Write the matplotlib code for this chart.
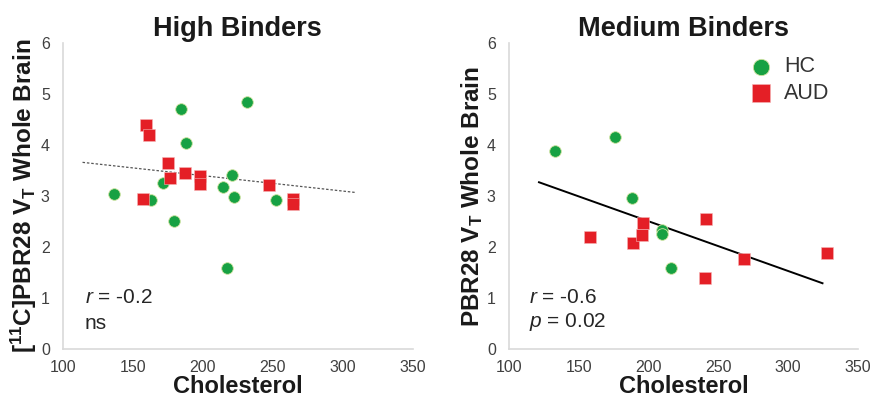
import numpy as np
import matplotlib.pyplot as plt

plt.rcParams['font.family'] = ['Liberation Sans', 'DejaVu Sans']
plt.rcParams['mathtext.fontset'] = 'custom'
plt.rcParams['mathtext.rm'] = 'Liberation Sans'
plt.rcParams['mathtext.it'] = 'Liberation Sans:italic'
plt.rcParams['mathtext.bf'] = 'Liberation Sans:bold'

GREEN = '#17a143'
RED = '#e41f26'

# High binders
hb_hc_x = [184.3, 231.4, 188.3, 220.5, 171.4, 214.5, 136.2, 222.6, 162.6, 252.4, 179.3, 217.4]
hb_hc_y = [4.70, 4.85, 4.03, 3.41, 3.25, 3.18, 3.03, 2.99, 2.92, 2.92, 2.51, 1.59]
hb_aud_x = [159.5, 161.4, 175.2, 187.6, 176.7, 198.3, 198.3, 247.4, 157.4, 264.8, 264.8]
hb_aud_y = [4.39, 4.20, 3.65, 3.46, 3.35, 3.39, 3.23, 3.22, 2.95, 2.94, 2.84]
hb_trend_x = [114, 309]
hb_trend_y = [3.66, 3.07]

# Medium binders
mb_hc_x = [133.0, 176.2, 188.3, 209.4, 209.4, 216.0]
mb_hc_y = [3.89, 4.16, 2.97, 2.33, 2.25, 1.59]
mb_aud_x = [158.0, 189.0, 195.5, 196.2, 241.3, 240.6, 268.3, 327.8]
mb_aud_y = [2.20, 2.07, 2.24, 2.47, 2.54, 1.39, 1.76, 1.88]
mb_trend_x = [121.5, 324.7]
mb_trend_y = [3.27, 1.29]

xticks = [100, 150, 200, 250, 300, 350]
yticks = [0, 1, 2, 3, 4, 5, 6]

fig = plt.figure(figsize=(8.72, 3.98), dpi=100)
ax1 = fig.add_axes([0.0722, 0.123, 0.401, 0.769])
ax2 = fig.add_axes([0.5837, 0.123, 0.400, 0.769])


def style(ax, title, ylabel):
    ax.set_xlim(100, 350)
    ax.set_ylim(0, 6)
    ax.set_xticks(xticks)
    ax.set_yticks(yticks)
    for s in ['top', 'right']:
        ax.spines[s].set_visible(False)
    for s in ['left', 'bottom']:
        ax.spines[s].set_color('#d9d9d9')
        ax.spines[s].set_linewidth(1.2)
    ax.tick_params(length=0, pad=9.5, labelsize=11.5, labelcolor='#404040')
    ax.tick_params(axis='x', pad=8)
    ax.set_title(title, fontsize=19.5, fontweight='bold', pad=5, color='#1a1a1a')
    ax.set_xlabel('Cholesterol', fontsize=17, fontweight='bold', labelpad=0, color='#1a1a1a')
    ax.set_ylabel(ylabel, fontsize=17.5, fontweight='bold', labelpad=1, color='#1a1a1a')


def points(ax, hx, hy, ax_, ay):
    ax.scatter(hx, hy, s=70, marker='o', color=GREEN, edgecolors='#cfe3a0',
               linewidths=0.6, zorder=3, label='HC')
    ax.scatter(ax_, ay, s=80, marker='s', color=RED, edgecolors='#f5b5b5',
               linewidths=0.4, zorder=3, label='AUD')


points(ax1, hb_hc_x, hb_hc_y, hb_aud_x, hb_aud_y)
ax1.plot(hb_trend_x, hb_trend_y, color='#555555', linestyle=(0, (2, 1.5)),
         linewidth=0.9, zorder=2)
style(ax1, 'High Binders', r'[$^{\mathbf{11}}$C]PBR28 V$_{\mathbf{T}}$ Whole Brain')
ax1.text(0.063, 1.02, r'$\mathit{r}$ = -0.2', transform=ax1.get_yaxis_transform(),
         fontsize=15, va='center', color='#262626')
ax1.text(0.063, 0.51, 'ns', transform=ax1.get_yaxis_transform(),
         fontsize=15, va='center', color='#262626')

points(ax2, mb_hc_x, mb_hc_y, mb_aud_x, mb_aud_y)
ax2.plot(mb_trend_x, mb_trend_y, color='black', linewidth=1.4, zorder=2)
style(ax2, 'Medium Binders', r'PBR28 V$_{\mathbf{T}}$ Whole Brain')
ax2.text(0.056, 1.02, r'$\mathit{r}$ = -0.6', transform=ax2.get_yaxis_transform(),
         fontsize=15, va='center', color='#262626')
ax2.text(0.056, 0.53, r'$\mathit{p}$ = 0.02', transform=ax2.get_yaxis_transform(),
         fontsize=15, va='center', color='#262626')
leg = ax2.legend(loc='upper left', bbox_to_anchor=(0.635, 0.985), frameon=False,
                 fontsize=15.5, handletextpad=0.1, labelspacing=0.25, markerscale=1.4,
                 borderaxespad=0)
for t in leg.get_texts():
    t.set_color('#333333')

fig.savefig('out.png', dpi=100)
